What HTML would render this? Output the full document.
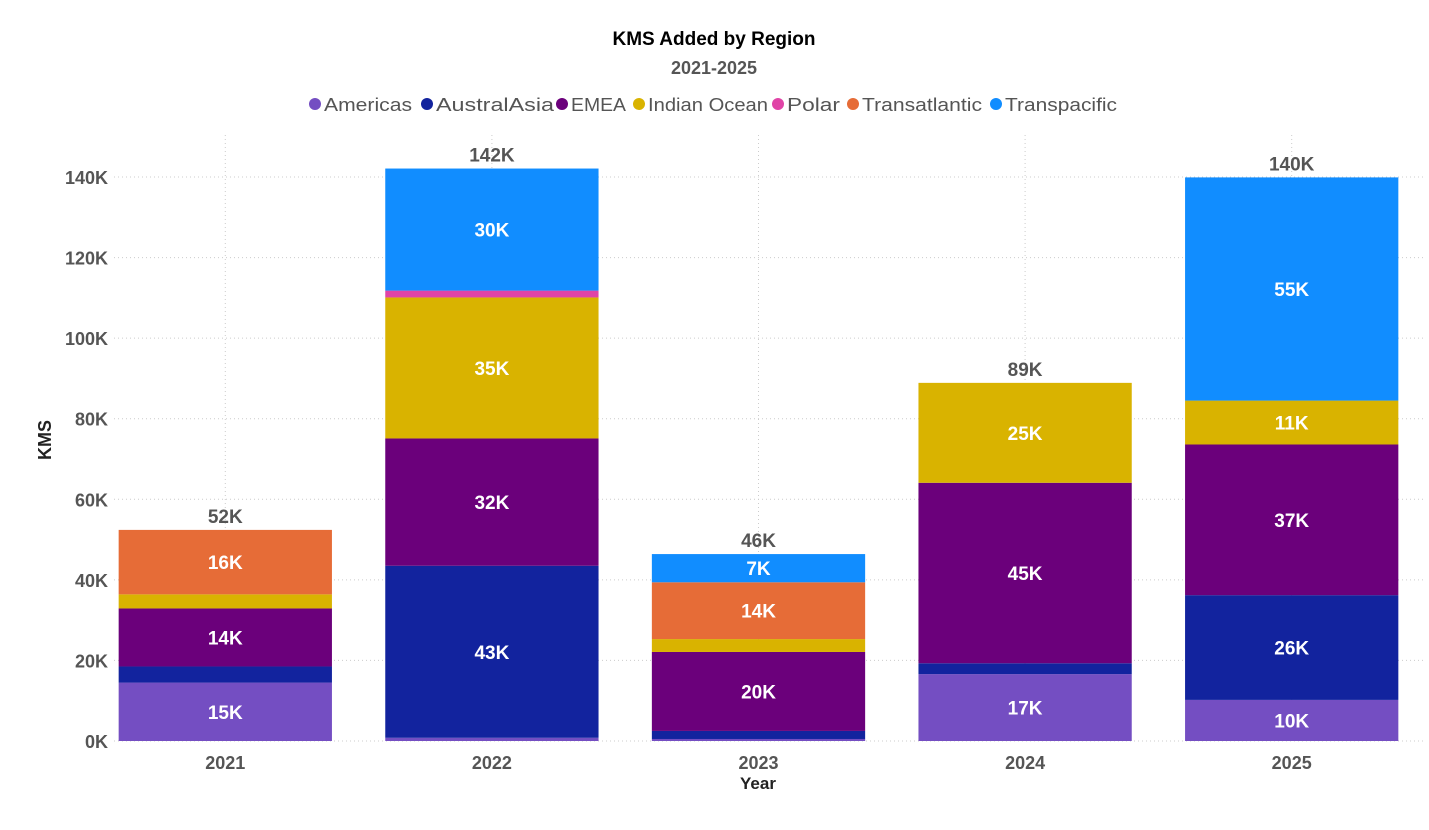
<!DOCTYPE html>
<html><head><meta charset="utf-8"><style>
body{margin:0;background:#fff;width:1429px;height:825px;overflow:hidden}
svg{font-family:"Liberation Sans",sans-serif}
</style></head><body>
<svg id="chart" width="1429" height="825" viewBox="0 0 1429 825">
<text x="714" y="45" text-anchor="middle" font-size="19" font-weight="bold" fill="#000">KMS Added by Region</text>
<text x="714" y="74" text-anchor="middle" font-size="18" font-weight="bold" fill="#555">2021-2025</text>
<g id="legend"></g>
<g id="grid"></g>
<g id="bars"></g>
<g id="axes"></g>
<text transform="translate(51,440) rotate(-90)" text-anchor="middle" font-size="18" font-weight="bold" fill="#222">KMS</text>
<text x="758" y="789" text-anchor="middle" font-size="17" font-weight="bold" fill="#222">Year</text>
</svg>
<script>
const years=["2021","2022","2023","2024","2025"];
const seriesNames=["Americas","AustralAsia","EMEA","Indian Ocean","Polar","Transatlantic","Transpacific"];
const seriesColors=["#744EC2","#12239E","#6B007B","#D9B300","#E044A7","#E66C37","#118DFF"];
const americas=[14.5,0.8,0.5,16.6,10.2];
const australasia=[4,42.7,2,2.7,26];
const emea=[14.4,31.6,19.6,44.8,37.4];
const indianOcean=[3.5,35,3.2,24.8,10.9];
const polar=[0,1.7,0,0,0];
const transatlantic=[16,0,14.1,0,0];
const transpacific=[0,30.3,7,0,55.4];
const yTicks=[0,20,40,60,80,100,120,140];
const series=[americas,australasia,emea,indianOcean,polar,transatlantic,transpacific];
const NS="http://www.w3.org/2000/svg";
const x0=92,x1=1425,y0=741,pxPerK=(741-177)/140;
const band=(x1-x0)/years.length,bw=band*0.8;
const y=v=>y0-v*pxPerK;
const xc=i=>x0+band*(i+0.5);
function mk(tag,attrs,parent,txt){const e=document.createElementNS(NS,tag);for(const k in attrs)e.setAttribute(k,attrs[k]);if(txt!==undefined)e.textContent=txt;parent.appendChild(e);return e;}
const grid=document.getElementById('grid'),bars=document.getElementById('bars'),axes=document.getElementById('axes'),legend=document.getElementById('legend');
yTicks.forEach(t=>{
 const l=mk('line',{x1:x0+22,x2:x1,y1:y(t),y2:y(t),stroke:'#ccc','stroke-dasharray':'1,3'},grid);
 
 
 const tx=mk('text',{x:108,y:y(t)+7,'text-anchor':'end','font-size':18,'font-weight':'bold',fill:'#555'},axes,t+'K');
 
 
});
years.forEach((yr,i)=>{
 const l=mk('line',{x1:xc(i),x2:xc(i),y1:135,y2:y0,stroke:'#ccc','stroke-dasharray':'1,3'},grid);
 
 
 let acc=0;
 series.forEach((s,si)=>{
  const v=s[i];if(!v)return;
  const r=mk('rect',{x:xc(i)-bw/2,y:y(acc+v),width:bw,height:v*pxPerK,fill:seriesColors[si]},bars);
  
  
  if(v>=5){
   const t=mk('text',{x:xc(i),y:y(acc+v/2)+7,'text-anchor':'middle','font-size':19,'font-weight':'bold',fill:'#fff'},bars,Math.round(v)+'K');
   
   
  }
  acc+=v;
 });
 const tt=mk('text',{x:xc(i),y:y(acc)-7,'text-anchor':'middle','font-size':19,'font-weight':'bold',fill:'#555'},bars,Math.round(acc)+'K');
 
 
 const xl=mk('text',{x:xc(i),y:769,'text-anchor':'middle','font-size':18,'font-weight':'bold',fill:'#555'},axes,yr);
 
 
});
// legend
const legendX=[309,421,556,633,772,847,990];
const legendW=[88,118,55,120,53,120,112];
seriesNames.forEach((n,i)=>{
 const g=mk('g',{},legend);
 
 
 mk('circle',{cx:legendX[i]+6,cy:104,r:6,fill:seriesColors[i]},g);
 mk('text',{x:legendX[i]+15,y:111,'font-size':18,fill:'#555',textLength:legendW[i],lengthAdjust:'spacingAndGlyphs'},g,n);
});
</script>
</body></html>
